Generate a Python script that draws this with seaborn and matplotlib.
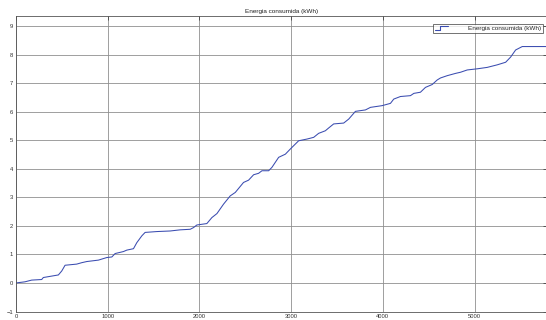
import numpy as np
import pandas as pd
import matplotlib
matplotlib.use("Agg")
import matplotlib.pyplot as plt
from matplotlib.lines import Line2D
from matplotlib.legend_handler import HandlerLine2D
import seaborn as sns

# Cumulative energy readings (sample index vs kWh)
muestra = [0, 98, 171, 280, 298, 407, 462, 499, 535, 662, 717, 772, 899, 990,
           1045, 1081, 1172, 1208, 1281, 1317, 1372, 1408, 1536, 1681, 1790,
           1900, 1936, 1972, 2081, 2136, 2191, 2263, 2336, 2391, 2481, 2536,
           2591, 2645, 2682, 2755, 2791, 2864, 2937, 2991, 3082, 3173, 3246,
           3300, 3373, 3410, 3464, 3573, 3628, 3701, 3810, 3865, 3992, 4083,
           4119, 4192, 4301, 4338, 4410, 4465, 4538, 4593, 4629, 4702, 4793,
           4847, 4920, 5029, 5138, 5248, 5339, 5393, 5448, 5520, 5783]
energia = [0.00, 0.04, 0.10, 0.12, 0.19, 0.25, 0.28, 0.42, 0.62, 0.66, 0.71,
           0.75, 0.80, 0.89, 0.91, 1.03, 1.10, 1.15, 1.20, 1.41, 1.65, 1.77,
           1.80, 1.82, 1.86, 1.88, 1.94, 2.03, 2.08, 2.29, 2.43, 2.76, 3.05,
           3.17, 3.52, 3.60, 3.79, 3.84, 3.93, 3.93, 4.05, 4.40, 4.51, 4.69,
           4.98, 5.04, 5.10, 5.24, 5.33, 5.43, 5.57, 5.60, 5.74, 6.01, 6.06,
           6.15, 6.21, 6.29, 6.44, 6.53, 6.56, 6.64, 6.68, 6.85, 6.95, 7.11,
           7.18, 7.26, 7.34, 7.38, 7.46, 7.50, 7.55, 7.64, 7.73, 7.91, 8.16,
           8.28, 8.28]

xticks = [0, 1000, 2000, 3000, 4000, 5000]
yticks = [-1, 0, 1, 2, 3, 4, 5, 6, 7, 8, 9]
titulo = "Energia consumida (kWh)"

df = pd.DataFrame({"muestra": muestra, "energia": energia})

sns.set_style("white")
plt.rcParams["font.family"] = ["Liberation Sans", "DejaVu Sans"]

fig = plt.figure(figsize=(5.46, 3.20), dpi=100)
ax = fig.add_axes([16 / 546, 8.5 / 320, 531 / 546, 295.5 / 320])

linea_color = "#3a4cb0"
sns.lineplot(data=df, x="muestra", y="energia", ax=ax, sort=False,
             estimator=None, color=linea_color, linewidth=0.75, label=titulo)

ax.set_xlim(0, 5790)
ax.set_ylim(-1, 9.35)
ax.set_xticks(xticks)
ax.set_yticks(yticks)
ax.set_xlabel("")
ax.set_ylabel("")
ax.grid(True, color="#8f8f8f", linewidth=0.6)
ax.tick_params(direction="in", length=3, width=0.5, labelsize=4.2,
               colors="#333333", pad=2, top=True, right=True)
for s in ax.spines.values():
    s.set_color("#555555")
    s.set_linewidth(0.6)
ax.spines["right"].set_visible(False)

ax.set_title(titulo, fontsize=4.6, pad=2.5, color="#222222")


class HandlerStep(HandlerLine2D):
    def create_artists(self, legend, orig_handle, xdescent, ydescent,
                       width, height, fontsize, trans):
        x0, x1 = -xdescent, -xdescent + width
        ym0 = -ydescent + height * 0.1
        ym1 = -ydescent + height * 0.9
        xs = [x0, x0 + width * 0.4, x0 + width * 0.4, x1]
        ys = [ym0, ym0, ym1, ym1]
        ln = Line2D(xs, ys, color=orig_handle.get_color(), linewidth=0.8)
        ln.set_transform(trans)
        return [ln]


handle = Line2D([], [], color=linea_color, linewidth=0.8)
leg = ax.legend([handle], [titulo], handler_map={Line2D: HandlerStep()},
                loc="upper right", bbox_to_anchor=(0.9925, 0.973),
                fontsize=4.6, frameon=True, fancybox=False,
                borderpad=0.3, handlelength=2.0, handletextpad=3.2,
                borderaxespad=0.0)
leg.get_frame().set_edgecolor("#333333")
leg.get_frame().set_linewidth(0.6)

fig.savefig("out.png", dpi=100)
